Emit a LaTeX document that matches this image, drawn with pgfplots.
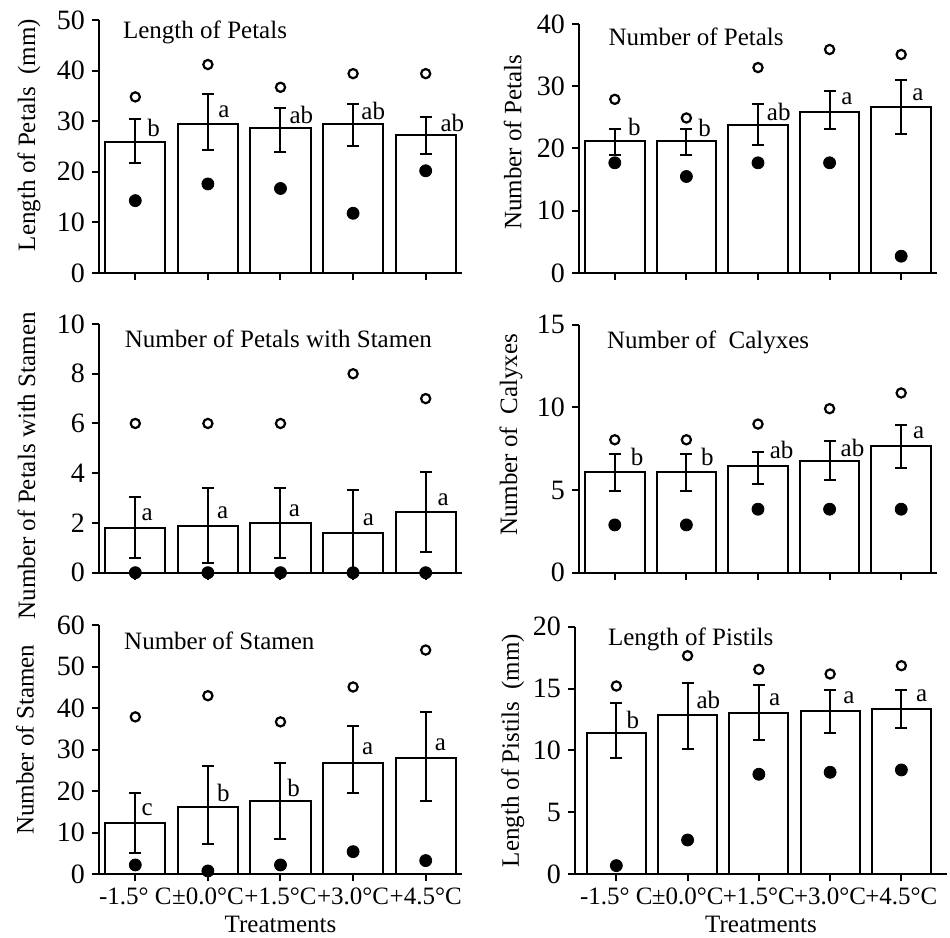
\documentclass[border=0pt]{standalone}
\usepackage{fontspec}
\setmainfont{Liberation Serif}
\usepackage{pgfplots}
\pgfplotsset{compat=1.18}
\usepackage{pgfplotstable}
\newcommand{\fs}{\fontsize{12.5}{14}\selectfont}
\newcommand{\fst}{\fontsize{14}{16}\selectfont}

% x mean hi lo max min lx ly lab
\pgfplotstableread{
x mean hi lo max min lx ly lab
0 25.9 30.4 21.8 34.8 14.3 0.16 28.6 b
1 29.4 35.3 24.4 41.2 17.6 0.14 31.9 a
2 28.6 32.7 24.0 36.7 16.7 0.12 31.2 ab
3 29.4 33.4 25.0 39.4 11.8 0.11 32.1 ab
4 27.3 30.8 23.5 39.4 20.2 0.20 29.7 ab
}\tA
\pgfplotstableread{
x mean hi lo max min lx ly lab
0 21.2 23.2 19.0 27.9 17.7 0.18 23.5 b
1 21.2 23.1 19.0 24.9 15.5 0.16 23.3 b
2 23.8 27.1 20.5 33.0 17.7 0.12 25.9 ab
3 25.9 29.2 23.1 35.9 17.7 0.16 28.0 a
4 26.6 31.0 22.3 35.1 2.7 0.15 28.7 a
}\tB
\pgfplotstableread{
x mean hi lo max min lx ly lab
0 1.78 3.06 0.60 6.0 0 0.08 2.32 a
1 1.88 3.42 0.38 6.0 0 0.12 2.39 a
2 1.98 3.42 0.60 6.0 0 0.11 2.49 a
3 1.61 3.32 0.00 8.0 0 0.13 2.14 a
4 2.43 4.06 0.84 7.0 0 0.16 2.92 a
}\tC
\pgfplotstableread{
x mean hi lo max min lx ly lab
0 6.08 7.19 4.97 8.04 2.89 0.22 7.03 b
1 6.08 7.19 4.97 8.04 2.89 0.20 7.03 b
2 6.48 7.29 5.37 8.99 3.84 0.16 7.43 ab
3 6.73 7.98 5.62 9.92 3.84 0.15 7.54 ab
4 7.68 8.91 6.32 10.87 3.84 0.16 8.44 a
}\tD
\pgfplotstableread{
x mean hi lo max min lx ly lab
0 12.3 19.5 5.05 37.9 2.25 0.08 15.5 c
1 16.1 26.1 7.2 43.0 0.8 0.12 19.5 b
2 17.7 26.9 8.4 36.7 2.25 0.09 20.9 b
3 26.9 35.7 19.5 45.1 5.45 0.12 30.3 a
4 28.1 39.1 17.6 54.0 3.3 0.12 31.1 a
}\tE
\pgfplotstableread{
x mean hi lo max min lx ly lab
0 11.44 13.81 9.42 15.21 0.70 0.14 12.46 b
1 12.87 15.48 10.09 17.66 2.77 0.12 14.08 ab
2 13.06 15.29 10.85 16.55 8.08 0.14 14.08 a
3 13.22 14.89 11.39 16.18 8.24 0.18 14.29 a
4 13.38 14.89 11.79 16.85 8.43 0.20 14.40 a
}\tF

\pgfplotsset{
  panel/.style={
    scale only axis, anchor=south west,
    axis x line=bottom, axis y line=left,
    axis line style={-, line width=1pt},
    xmin=-0.5, xmax=4.5, ymin=0,
    enlargelimits=false, clip=false,
    xtick={0,...,4}, xticklabels={},
    tick align=outside, major tick length=3.5pt,
    tick style={line width=1pt, black},
    /pgf/number format/assume math mode=true,
    yticklabel style={font=\fst},
    xticklabel style={font=\fs},
    label style={font=\fs},
  },
  bottomrow/.style={
    xticklabels={-1.5° C,±0.0°C,+1.5°C,+3.0°C,+4.5°C},
    xticklabel style={yshift=-3pt, inner sep=0pt},
    xlabel={Treatments},
    xlabel style={at={(axis description cs:0.5,0)}, anchor=center, yshift=-25pt},
  },
}

\newcommand{\panelplots}[1]{%
  \addplot[ybar, bar width=0.83, fill=white, draw=black, line width=1pt,
    error bars/.cd, y dir=both, y explicit,
    error bar style={line width=1pt, black},
    error mark options={rotate=90, mark size=3pt, line width=1pt, black}]
    table[x=x, y=mean, y error plus expr=\thisrow{hi}-\thisrow{mean},
          y error minus expr=\thisrow{mean}-\thisrow{lo}] {#1};
  \addplot[only marks, mark=o, mark size=2.3pt, mark options={line width=1.1pt, black}]
    table[x=x, y=max] {#1};
  \addplot[only marks, mark=*, mark size=3pt, mark options={black, fill=black}]
    table[x=x, y=min] {#1};
  \addplot[draw=none, mark=none, nodes near coords, point meta=explicit symbolic,
    nodes near coords style={anchor=west, font=\fs, inner sep=0pt}]
    table[x expr=\thisrow{x}+\thisrow{lx}, y=ly, meta=lab] {#1};
}

\begin{document}
\begin{tikzpicture}
\useasboundingbox (0,0) rectangle (475pt,469pt);

% Panel 1
\begin{axis}[panel, width=181.5pt, height=126.5pt, at={(49.5pt,332.5pt)},
  ymax=50, ytick={0,10,...,50},
  ylabel={Length of Petals\ \ (mm)},
  ylabel style={at={(axis description cs:-0.193,0.545)}, anchor=center}]
\panelplots{\tA}
\node[anchor=west, font=\fs] at (rel axis cs:0.047,0.95) {Length of Petals};
\end{axis}

% Panel 2
\begin{axis}[panel, width=179pt, height=124.5pt, at={(289.5pt,332.5pt)},
  ymax=40, ytick={0,10,...,40},
  ylabel={Number of Petals},
  ylabel style={at={(axis description cs:-0.185,0.525)}, anchor=center}]
\panelplots{\tB}
\node[anchor=west, font=\fs] at (rel axis cs:0.063,0.95) {Number of Petals};
\end{axis}

% Panel 3
\begin{axis}[panel, width=181.5pt, height=124.35pt, at={(49.5pt,182.65pt)},
  ymax=10, ytick={0,2,...,10},
  ylabel={Number of Petals with Stamen},
  ylabel style={at={(axis description cs:-0.2,0.43)}, anchor=center}]
\panelplots{\tC}
\node[anchor=west, font=\fs] at (rel axis cs:0.052,0.94) {Number of Petals with Stamen};
\end{axis}

% Panel 4
\begin{axis}[panel, width=179pt, height=124pt, at={(289.5pt,182.65pt)},
  ymax=15, ytick={0,5,...,15},
  ylabel={Number of\ \ Calyxes},
  ylabel style={at={(axis description cs:-0.19,0.556)}, anchor=center}]
\panelplots{\tD}
\node[anchor=west, font=\fs] at (rel axis cs:0.059,0.93) {Number of\ \ Calyxes};
\end{axis}

% Panel 5
\begin{axis}[panel, bottomrow, width=181.5pt, height=124.6pt, at={(49.5pt,31.85pt)},
  ymax=60, ytick={0,10,...,60},
  ylabel={Number of Stamen},
  ylabel style={at={(axis description cs:-0.204,0.54)}, anchor=center}]
\panelplots{\tE}
\node[anchor=west, font=\fs] at (rel axis cs:0.05,0.936) {Number of Stamen};
\end{axis}

% Panel 6
\begin{axis}[panel, bottomrow, width=186pt, height=123.8pt, at={(287.5pt,31.85pt)},
  xmin=-0.58, xmax=4.64,
  ymax=20, ytick={0,5,...,20},
  ylabel={Length of Pistils\ \ (mm)},
  ylabel style={at={(axis description cs:-0.167,0.5)}, anchor=center}]
\panelplots{\tF}
\node[anchor=west, font=\fs] at (rel axis cs:0.07,0.95) {Length of Pistils};
\end{axis}
\end{tikzpicture}
\end{document}
